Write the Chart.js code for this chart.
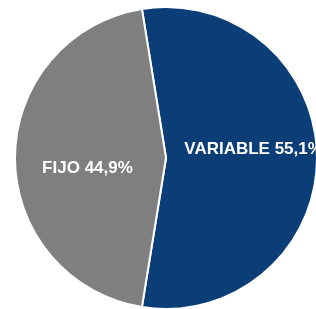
<!DOCTYPE html>
<html>
<head>
<meta charset="utf-8">
<script src="https://cdn.jsdelivr.net/npm/chart.js@4.4.0/dist/chart.umd.min.js"></script>
<style>
  html, body { margin: 0; padding: 0; background: #fff; overflow: hidden; }
  body { width: 316px; height: 309px; position: relative; }
  #wrap { position: absolute; left: 14px; top: 6px; width: 304px; height: 304px; }
</style>
</head>
<body>
<div id="wrap"><canvas id="myChart"></canvas></div>
<script>
// datos del gráfico
const labels = ['VARIABLE', 'FIJO'];
const values = [55.1, 44.9];
const colors = ['#0B3D77', '#7F7F7F'];
// posición de la etiqueta: fracción del radio y desplazamiento vertical
const labelRadius = [0.58, 0.52];
const labelDy = [-9, 10];

const ctx = document.getElementById('myChart');

const sliceLabels = {
  id: 'sliceLabels',
  afterDatasetsDraw(chart) {
    const c = chart.ctx;
    const meta = chart.getDatasetMeta(0);
    c.save();
    c.font = 'bold 17px "Liberation Sans", Arial, sans-serif';
    c.fillStyle = '#ffffff';
    c.textAlign = 'center';
    c.textBaseline = 'middle';
    meta.data.forEach((arc, i) => {
      const mid = (arc.startAngle + arc.endAngle) / 2;
      const r = arc.outerRadius * labelRadius[i];
      const x = arc.x + Math.cos(mid) * r;
      const y = arc.y + Math.sin(mid) * r + labelDy[i];
      const txt = labels[i] + ' ' + values[i].toFixed(1).replace('.', ',') + '%';
      c.fillText(txt, x, y);
    });
    c.restore();
  }
};

// rotación para que el corte quede simétrico respecto al eje horizontal
const rotation = 90 - values[0] / (values[0] + values[1]) * 180;

new Chart(ctx, {
  type: 'pie',
  data: {
    labels: labels,
    datasets: [{
      data: values,
      backgroundColor: colors,
      borderColor: '#ffffff',
      borderWidth: 2
    }]
  },
  options: {
    responsive: true,
    maintainAspectRatio: false,
    animation: false,
    rotation: rotation,
    layout: { padding: 0 },
    plugins: {
      legend: { display: false },
      tooltip: { enabled: false }
    }
  },
  plugins: [sliceLabels]
});
</script>
</body>
</html>
